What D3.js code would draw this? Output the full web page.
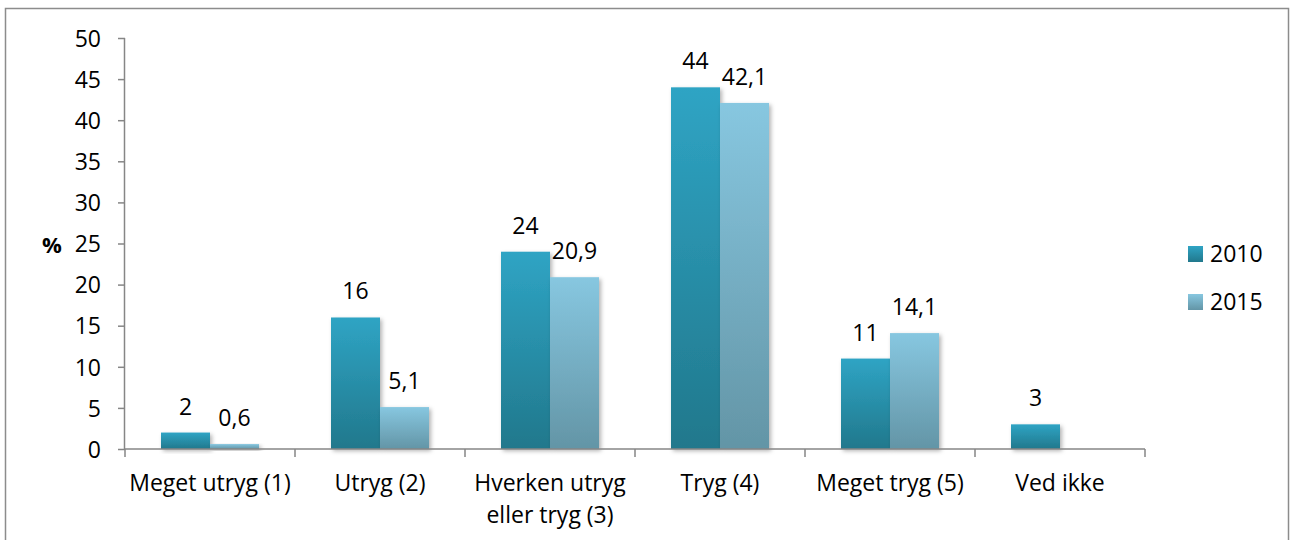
<!DOCTYPE html>
<html>
<head>
<meta charset="utf-8">
<script src="https://cdn.jsdelivr.net/npm/d3@7"></script>
<style>
  body { margin: 0; background: #fff; }
  text { font-family: 'Open Sans', sans-serif; fill: #000; }
</style>
</head>
<body>
<script>
// Data
var categories = ['Meget utryg (1)', 'Utryg (2)', 'Hverken utryg|eller tryg (3)', 'Tryg (4)', 'Meget tryg (5)', 'Ved ikke'];
var series = ['2010', '2015'];
var values2010 = [2, 16, 24, 44, 11, 3];
var values2015 = [0.6, 5.1, 20.9, 42.1, 14.1, null];
var yTicks = [0, 5, 10, 15, 20, 25, 30, 35, 40, 45, 50];

// Set dimensions
var W = 1290, H = 540;
var margin = { top: 38, left: 125 };
var width = 1020, height = 411;

var svg = d3.select('body').append('svg')
  .attr('width', W)
  .attr('height', H);

// Outer frame
svg.append('rect')
  .attr('x', 5.5).attr('y', 8.5)
  .attr('width', 1283).attr('height', 560)
  .attr('fill', 'none')
  .attr('stroke', '#8c8c8c')
  .attr('stroke-width', 1.5);

var defs = svg.append('defs');
var grads = [['g2010', '#2fa4c4', '#21788c'], ['g2015', '#87c7e0', '#6395a6']];
grads.forEach(function(g) {
  var lg = defs.append('linearGradient').attr('id', g[0])
    .attr('x1', 0).attr('y1', 0).attr('x2', 0).attr('y2', 1);
  lg.append('stop').attr('offset', '0%').attr('stop-color', g[1]);
  lg.append('stop').attr('offset', '100%').attr('stop-color', g[2]);
});
var shadow = defs.append('filter').attr('id', 'shadow')
  .attr('x', '-20%').attr('y', '-20%').attr('width', '150%').attr('height', '150%');
shadow.append('feDropShadow')
  .attr('dx', 2).attr('dy', 2).attr('stdDeviation', 2)
  .attr('flood-color', '#000').attr('flood-opacity', 0.3);

var g = svg.append('g')
  .attr('transform', 'translate(' + margin.left + ',' + margin.top + ')');

// Scales
var x = d3.scaleBand().domain(categories).range([0, width]).padding(0);
var xs = d3.scaleBand().domain(series)
  .range([x.bandwidth() / 2 - 49, x.bandwidth() / 2 + 49]);
var y = d3.scaleLinear().domain([0, 50]).range([height, 0]);

// Bars
var data = [];
categories.forEach(function(c, i) {
  [values2010[i], values2015[i]].forEach(function(v, j) {
    if (v != null) data.push({ cat: c, ser: series[j], val: v });
  });
});

g.selectAll('rect.bar')
  .data(data)
  .enter()
  .append('rect')
  .attr('class', 'bar')
  .attr('x', d => x(d.cat) + xs(d.ser))
  .attr('y', d => y(d.val))
  .attr('width', xs.bandwidth())
  .attr('height', d => height - y(d.val))
  .attr('fill', d => 'url(#g' + d.ser + ')')
  .attr('filter', 'url(#shadow)');

// Value labels
g.selectAll('text.val')
  .data(data)
  .enter()
  .append('text')
  .attr('class', 'val')
  .attr('x', d => x(d.cat) + xs(d.ser) + xs.bandwidth() / 2)
  .attr('y', d => y(d.val) - 18)
  .attr('text-anchor', 'middle')
  .style('font-size', '23px')
  .text(d => String(d.val).replace('.', ','));

// Y axis
var yAxis = g.append('g')
  .call(d3.axisLeft(y).tickValues(yTicks).tickSize(7).tickPadding(17));
yAxis.selectAll('path, line').attr('stroke', '#868686').attr('stroke-width', 1.5);
yAxis.select('.domain').attr('d', 'M-0.5,' + height + 'V0');
yAxis.selectAll('text').style('font-size', '23px').attr('dy', '0.36em');

// X axis
var xAxis = g.append('g')
  .attr('transform', 'translate(0,' + height + ')')
  .call(d3.axisBottom(x).tickSize(0).tickFormat(''));
xAxis.selectAll('path').attr('stroke', '#868686').attr('stroke-width', 1.5);
xAxis.select('.domain').attr('d', 'M0,0H' + width);
var tickPos = categories.map(c => x(c)).concat([width]);
xAxis.selectAll('line.sep')
  .data(tickPos)
  .enter()
  .append('line')
  .attr('class', 'sep')
  .attr('x1', d => d).attr('x2', d => d)
  .attr('y1', 0).attr('y2', 8)
  .attr('stroke', '#868686').attr('stroke-width', 1.5);

// Category labels
var catLab = g.selectAll('text.cat')
  .data(categories)
  .enter()
  .append('text')
  .attr('class', 'cat')
  .attr('text-anchor', 'middle')
  .attr('transform', d => 'translate(' + (x(d) + x.bandwidth() / 2) + ',' + (height + 42) + ')')
  .style('font-size', '23px');
catLab.selectAll('tspan')
  .data(d => d.split('|'))
  .enter()
  .append('tspan')
  .attr('x', 0)
  .attr('dy', (d, i) => i === 0 ? 0 : 32)
  .text(d => d);

// Y label
svg.append('text')
  .attr('x', 52)
  .attr('y', 253)
  .attr('text-anchor', 'middle')
  .style('font-size', '22px')
  .style('font-weight', 'bold')
  .text('%');

// Legend
var legend = svg.append('g').attr('transform', 'translate(1188,246)');
series.forEach(function(s, i) {
  var row = legend.append('g').attr('transform', 'translate(0,' + i * 48 + ')');
  row.append('rect')
    .attr('width', 15).attr('height', 16)
    .attr('fill', 'url(#g' + s + ')');
  row.append('text')
    .attr('x', 22).attr('y', 8)
    .attr('dy', '0.36em')
    .style('font-size', '23px')
    .text(s);
});
</script>
</body>
</html>
